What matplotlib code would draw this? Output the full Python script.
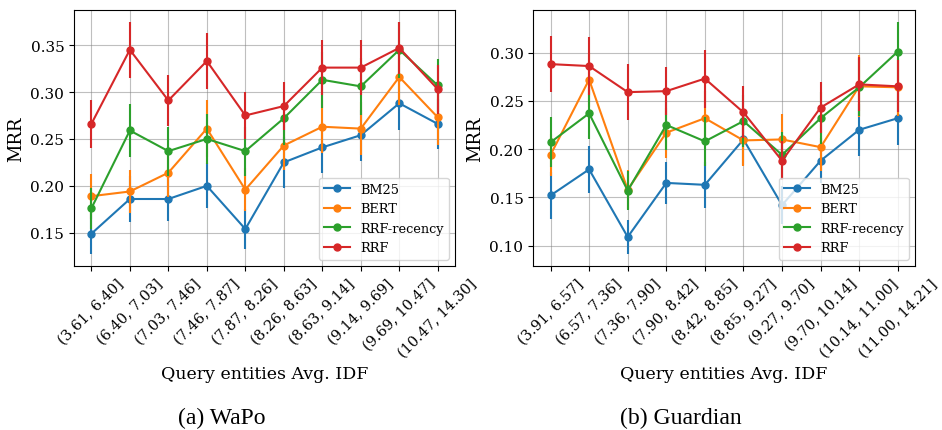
import numpy as np
from matplotlib import pyplot as plt

plt.rcParams["font.family"] = ["DejaVu Serif"]

methods = ["BM25", "BERT", "RRF-recency", "RRF"]
colors = ["#1f77b4", "#ff7f0e", "#2ca02c", "#d62728"]

# WaPo
wapo_bins = ["(3.61, 6.40]", "(6.40, 7.03]", "(7.03, 7.46]", "(7.46, 7.87]",
             "(7.87, 8.26]", "(8.26, 8.63]", "(8.63, 9.14]", "(9.14, 9.69]",
             "(9.69, 10.47]", "(10.47, 14.30]"]
wapo_bm25 = [0.149, 0.186, 0.186, 0.200, 0.154, 0.225, 0.241, 0.254, 0.288, 0.266]
wapo_bert = [0.189, 0.194, 0.214, 0.261, 0.196, 0.243, 0.263, 0.261, 0.316, 0.273]
wapo_rrfr = [0.176, 0.259, 0.237, 0.250, 0.237, 0.272, 0.313, 0.306, 0.345, 0.307]
wapo_rrf = [0.266, 0.345, 0.291, 0.333, 0.275, 0.285, 0.326, 0.326, 0.347, 0.303]
wapo_bm25_err = [0.022, 0.024, 0.023, 0.024, 0.021, 0.027, 0.027, 0.027, 0.029, 0.027]
wapo_bert_err = [0.024, 0.023, 0.026, 0.030, 0.023, 0.026, 0.028, 0.028, 0.030, 0.029]
wapo_rrfr_err = [0.022, 0.028, 0.026, 0.027, 0.026, 0.028, 0.030, 0.030, 0.030, 0.028]
wapo_rrf_err = [0.026, 0.030, 0.027, 0.030, 0.025, 0.026, 0.029, 0.029, 0.028, 0.026]

# Guardian
guard_bins = ["(3.91, 6.57]", "(6.57, 7.36]", "(7.36, 7.90]", "(7.90, 8.42]",
              "(8.42, 8.85]", "(8.85, 9.27]", "(9.27, 9.70]", "(9.70, 10.14]",
              "(10.14, 11.00]", "(11.00, 14.21]"]
guard_bm25 = [0.152, 0.179, 0.109, 0.165, 0.163, 0.210, 0.142, 0.188, 0.220, 0.232]
guard_bert = [0.194, 0.272, 0.158, 0.217, 0.232, 0.209, 0.210, 0.202, 0.265, 0.264]
guard_rrfr = [0.207, 0.237, 0.157, 0.225, 0.208, 0.229, 0.194, 0.232, 0.264, 0.301]
guard_rrf = [0.288, 0.286, 0.259, 0.260, 0.273, 0.238, 0.188, 0.243, 0.267, 0.265]
guard_bm25_err = [0.024, 0.024, 0.018, 0.022, 0.024, 0.026, 0.020, 0.023, 0.027, 0.028]
guard_bert_err = [0.022, 0.028, 0.020, 0.026, 0.028, 0.027, 0.026, 0.025, 0.032, 0.030]
guard_rrfr_err = [0.026, 0.027, 0.020, 0.026, 0.025, 0.027, 0.024, 0.027, 0.030, 0.031]
guard_rrf_err = [0.029, 0.030, 0.029, 0.025, 0.030, 0.027, 0.020, 0.026, 0.028, 0.027]

panels = [
    (wapo_bins, [wapo_bm25, wapo_bert, wapo_rrfr, wapo_rrf],
     [wapo_bm25_err, wapo_bert_err, wapo_rrfr_err, wapo_rrf_err],
     "(a) WaPo", [0.0786, 0.3805, 0.4045, 0.594], 0.235),
    (guard_bins, [guard_bm25, guard_bert, guard_rrfr, guard_rrf],
     [guard_bm25_err, guard_bert_err, guard_rrfr_err, guard_rrf_err],
     "(b) Guardian", [0.566, 0.3805, 0.4055, 0.594], 0.723),
]

fig = plt.figure(figsize=(9.42, 4.31), dpi=100)

for bins, series, errs, caption, rect, capx in panels:
    ax = fig.add_axes(rect)
    x = np.arange(len(bins))
    for name, vals, err, c in zip(methods, series, errs, colors):
        ax.errorbar(x, vals, yerr=err, fmt="none", ecolor=c, elinewidth=1.5)
        ax.plot(x, vals, color=c, marker="o", markersize=5, linewidth=1.5,
                label=name)
    ax.set_xticks(x)
    ax.set_xticklabels(bins, rotation=45, ha="center", fontsize=10.5)
    ax.tick_params(axis="y", labelsize=11)
    ax.set_ylabel("MRR", fontsize=13)
    ax.set_xlabel("Query entities Avg. IDF", fontsize=12.5)
    ax.xaxis.set_label_coords(0.5, -0.385)
    ax.grid(color="gray", alpha=0.5)
    ax.legend(loc="lower right", fontsize=9.3)
    fig.text(capx, 0.028, caption, ha="center", va="center", fontsize=17,
             family=["Liberation Serif"])

plt.savefig("out.png", dpi=100)
